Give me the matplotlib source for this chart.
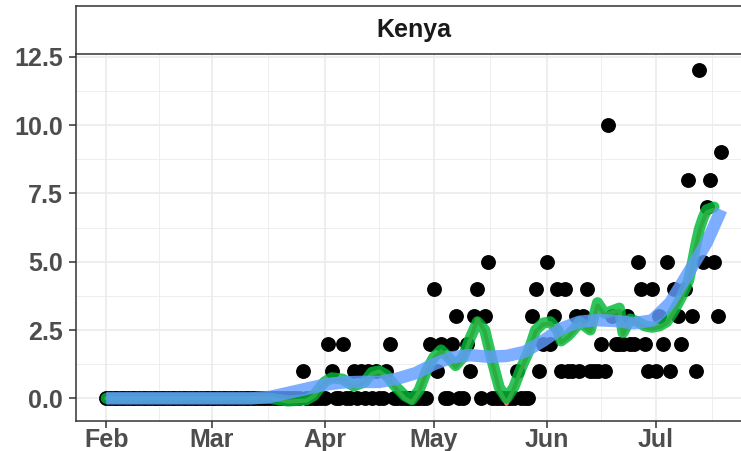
import matplotlib
matplotlib.use("Agg")
import matplotlib.pyplot as plt
import matplotlib.dates as mdates
import pandas as pd

plt.rcParams["font.family"] = ["Liberation Sans", "DejaVu Sans"]

# daily deaths, Kenya, 2020-02-01 .. 2020-07-19
DAYS = pd.date_range("2020-02-01", "2020-07-19", freq="D")
DEATHS = (
    # Feb
    [0, 0, 0, 0, 0, 0, 0, 0, 0, 0, 0, 0, 0, 0, 0, 0, 0, 0, 0, 0, 0, 0, 0, 0, 0, 0, 0, 0, 0]
    # Mar
    + [0, 0, 0, 0, 0, 0, 0, 0, 0, 0, 0, 0, 0, 0, 0, 0, 0, 0, 0, 0, 0, 0, 0, 0, 0, 1, 0, 0, 0, 0, 0]
    # Apr
    + [0, 2, 1, 0, 0, 2, 0, 0, 1, 0, 1, 0, 1, 0, 1, 0, 0, 1, 2, 0, 0, 0, 0, 0, 0, 0, 0, 0, 0, 2]
    # May
    + [4, 1, 2, 0, 0, 2, 3, 0, 0, 2, 1, 3, 4, 0, 3, 5, 0, 0, 0, 0, 0, 0, 0, 1, 0, 0, 0, 3, 4, 1, 2]
    # Jun
    + [5, 2, 3, 4, 1, 4, 1, 1, 3, 1, 3, 4, 1, 1, 1, 2, 1, 10, 3, 2, 2, 2, 3, 2, 2, 5, 4, 2, 1, 4]
    # Jul
    + [1, 3, 2, 5, 1, 4, 3, 2, 4, 8, 3, 1, 12, 5, 7, 8, 5, 3, 9]
)

# short-span smooth (green)
GREEN_DATES = ["2020-02-01", "2020-03-17", "2020-03-22", "2020-03-27", "2020-03-29",
               "2020-04-01", "2020-04-03", "2020-04-06", "2020-04-09", "2020-04-12",
               "2020-04-14", "2020-04-16", "2020-04-18", "2020-04-20", "2020-04-23",
               "2020-04-25", "2020-04-27", "2020-04-29", "2020-05-01", "2020-05-03",
               "2020-05-05", "2020-05-07", "2020-05-09", "2020-05-11", "2020-05-13",
               "2020-05-15", "2020-05-17", "2020-05-19", "2020-05-21", "2020-05-23",
               "2020-05-25", "2020-05-27", "2020-05-29", "2020-05-31", "2020-06-02",
               "2020-06-04", "2020-06-05", "2020-06-07", "2020-06-09", "2020-06-10",
               "2020-06-13", "2020-06-15", "2020-06-17", "2020-06-19", "2020-06-21",
               "2020-06-22", "2020-06-24", "2020-06-26", "2020-06-28", "2020-06-30",
               "2020-07-02", "2020-07-04", "2020-07-06", "2020-07-08", "2020-07-10",
               "2020-07-11", "2020-07-12", "2020-07-13", "2020-07-14", "2020-07-15",
               "2020-07-17"]
GREEN_VALS = [0.0, 0.0, -0.1, -0.05, 0.1,
              0.6, 0.75, 0.7, 0.45, 0.6,
              0.95, 1.0, 0.85, 0.5, 0.1,
              -0.05, 0.3, 1.0, 1.5, 1.77,
              1.5, 1.2, 1.5, 2.2, 2.8,
              2.5, 1.4, 0.4, 0.0, 0.4,
              1.1, 1.7, 2.5, 2.75, 2.8,
              2.5, 2.1, 2.3, 2.6, 2.8,
              2.5, 3.5, 3.1, 3.2, 3.3,
              2.4, 2.9, 2.8, 2.65, 2.6,
              2.65, 2.8, 3.2, 3.7, 4.3,
              4.9, 5.6, 6.2, 6.6, 6.9,
              7.0]
# red line sits under the green one, only its edges show
RED_VALS = [0.0, 0.0, -0.12, -0.08, 0.08,
            0.55, 0.7, 0.68, 0.4, 0.58,
            0.9, 0.98, 0.8, 0.45, 0.0,
            -0.15, 0.25, 0.95, 1.45, 1.72,
            1.45, 1.15, 1.45, 2.15, 2.9,
            2.45, 1.35, 0.3, -0.2, 0.35,
            1.05, 1.65, 2.45, 2.7, 2.75,
            2.45, 2.05, 2.25, 2.55, 2.75,
            2.45, 3.4, 3.05, 3.15, 3.2,
            2.35, 2.85, 2.75, 2.6, 2.55,
            2.6, 2.75, 3.15, 3.65, 4.25,
            4.85, 5.55, 6.1, 6.5, 6.8,
            6.9]

# wide loess (blue)
BLUE_DATES = ["2020-02-01", "2020-03-12", "2020-03-17", "2020-03-22", "2020-03-27",
              "2020-04-01", "2020-04-06", "2020-04-11", "2020-04-16", "2020-04-21",
              "2020-04-26", "2020-05-01", "2020-05-06", "2020-05-11", "2020-05-16",
              "2020-05-21", "2020-05-26", "2020-05-31", "2020-06-05", "2020-06-10",
              "2020-06-15", "2020-06-20", "2020-06-25", "2020-06-30", "2020-07-05",
              "2020-07-10", "2020-07-15", "2020-07-19"]
BLUE_VALS = [0.0, 0.0, 0.05, 0.2, 0.35,
             0.5, 0.58, 0.6, 0.6, 0.72,
             0.92, 1.25, 1.5, 1.58, 1.52,
             1.55, 1.7, 2.1, 2.55, 2.8,
             2.86, 2.83, 2.75, 2.85, 3.5,
             4.6, 5.7, 6.9]

W, H = 741, 451
fig = plt.figure(figsize=(W / 100, H / 100), dpi=100)
left_px, right_px = 75.5, 752
ax = fig.add_axes([left_px / W, 1 - 421 / H, (right_px - left_px) / W, (421 - 54) / H])
strip = fig.add_axes([left_px / W, 1 - 54 / H, (right_px - left_px) / W, (54 - 5.5) / H])

ax.scatter(DAYS, DEATHS, s=115, color="black", linewidths=0, zorder=3)
gd = pd.to_datetime(GREEN_DATES)
ax.plot(gd, RED_VALS, color="#F8766D", lw=3, solid_capstyle="round", zorder=4)
ax.plot(gd, GREEN_VALS, color="#00BA38", lw=8, alpha=0.82,
        solid_capstyle="round", solid_joinstyle="round", zorder=5)
ax.plot(pd.to_datetime(BLUE_DATES), BLUE_VALS, color="#619CFF", lw=9, alpha=0.82,
        solid_capstyle="butt", solid_joinstyle="round", zorder=6)

months = pd.date_range("2020-01-01", "2020-08-01", freq="MS")
mnum = mdates.date2num(months)
ax.set_xticks(mnum[1:7])
ax.set_xticklabels([m.strftime("%b") for m in months[1:7]])
ax.set_xticks([(a + b) / 2 for a, b in zip(mnum[:-1], mnum[1:])], minor=True)
ax.set_yticks([0, 2.5, 5, 7.5, 10, 12.5])
ax.set_yticklabels(["0.0", "2.5", "5.0", "7.5", "10.0", "12.5"])
ax.set_yticks([1.25, 3.75, 6.25, 8.75, 11.25], minor=True)

# limits after the ticks, set_xticks would widen the view otherwise
x0 = mdates.date2num(pd.Timestamp("2020-02-01"))
ax.set_xlim(x0 - 8.45, x0 + 169 + 8.45)
ax.set_ylim(-0.83, 12.6)

ax.grid(True, which="major", color="#EBEBEB", lw=1.2, zorder=0)
ax.grid(True, which="minor", color="#EBEBEB", lw=0.6, zorder=0)
ax.set_axisbelow(True)
ax.tick_params(which="major", length=5, width=1.1, color="#333333",
               labelcolor="#4D4D4D", labelsize=18)
ax.tick_params(axis="y", pad=4)
ax.tick_params(axis="x", pad=0)
ax.tick_params(which="minor", length=0)
for lab in ax.get_xticklabels() + ax.get_yticklabels():
    lab.set_fontweight("bold")
for side in ["left", "bottom", "right", "top"]:
    ax.spines[side].set_color("#333333")
    ax.spines[side].set_linewidth(1.1)
ax.spines["top"].set_visible(False)

strip.set_xticks([])
strip.set_yticks([])
strip.set_facecolor("white")
for side in strip.spines:
    strip.spines[side].set_color("#333333")
    strip.spines[side].set_linewidth(1.1)
strip.text(0.5, 0.5, "Kenya", ha="center", va="center", fontsize=18,
           fontweight="bold", color="#1A1A1A", transform=strip.transAxes)

fig.savefig("out.png", dpi=100)
